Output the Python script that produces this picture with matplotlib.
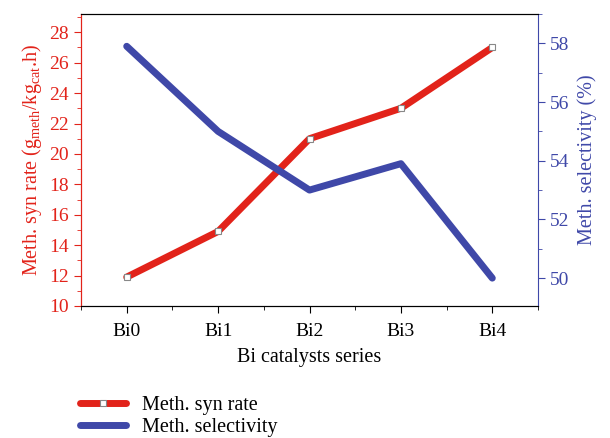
import numpy as np
import matplotlib.pyplot as plt
from matplotlib.ticker import MultipleLocator

plt.rcParams['font.family'] = ['Liberation Serif', 'DejaVu Serif']
plt.rcParams['mathtext.fontset'] = 'custom'
plt.rcParams['mathtext.rm'] = 'Liberation Serif'

# datos
catalysts = ['Bi0', 'Bi1', 'Bi2', 'Bi3', 'Bi4']
syn_rate = [11.9, 14.9, 21.0, 23.0, 27.0]
selectivity = [57.9, 55.0, 53.0, 53.9, 50.0]

red = '#e2231a'
blue = '#3f48a8'

fig = plt.figure(figsize=(6.1, 4.38), dpi=100)
ax = fig.add_axes([81/610, 1 - 306/438, (538-81)/610, (306-14)/438])
ax2 = ax.twinx()

x = np.arange(len(catalysts))
l1, = ax.plot(x, syn_rate, color=red, lw=5, solid_capstyle='round',
              marker='s', ms=4, mfc='white', mec='#888888', mew=0.8, zorder=3)
l2, = ax2.plot(x, selectivity, color=blue, lw=5, solid_capstyle='round', zorder=3)

ax.set_xlim(-0.5, 4.5)
ax.set_ylim(10, 29.2)
ax2.set_ylim(49.05, 59)
ax.set_xticks(x)
ax.set_xticklabels(catalysts)
ax.xaxis.set_minor_locator(MultipleLocator(0.5))
ax.yaxis.set_major_locator(MultipleLocator(2))
ax.yaxis.set_minor_locator(MultipleLocator(1))
ax2.yaxis.set_major_locator(MultipleLocator(2))
ax2.yaxis.set_minor_locator(MultipleLocator(1))

ax.tick_params(axis='x', which='major', length=5, labelsize=14, pad=7)
ax.tick_params(axis='x', which='minor', length=3)
ax.tick_params(axis='y', which='major', length=5, labelsize=14, colors=red)
ax.tick_params(axis='y', which='minor', length=3, colors=red)
ax2.tick_params(axis='y', which='major', length=5, labelsize=14, colors=blue)
ax2.tick_params(axis='y', which='minor', length=3, colors=blue)

ax.spines['left'].set_color(red)
ax2.spines['left'].set_color(red)
ax2.spines['right'].set_color(blue)
ax.spines['right'].set_visible(False)

ax.set_xlabel('Bi catalysts series', fontsize=14.5, labelpad=6)
ax.set_ylabel(r'Meth. syn rate (g$_{\rm meth}$/kg$_{\rm cat}$.h)', fontsize=14.5, color=red, labelpad=4)
ax2.set_ylabel('Meth. selectivity (%)', fontsize=14.5, color=blue, labelpad=6)

fig.legend([l1, l2], ['Meth. syn rate', 'Meth. selectivity'], loc='upper left',
           bbox_to_anchor=(72/610, 1 - 388/438), frameon=False, fontsize=14.5,
           handlelength=2.3, labelspacing=0.15, borderaxespad=0, handletextpad=0.8)

fig.savefig('out.png', dpi=100)
